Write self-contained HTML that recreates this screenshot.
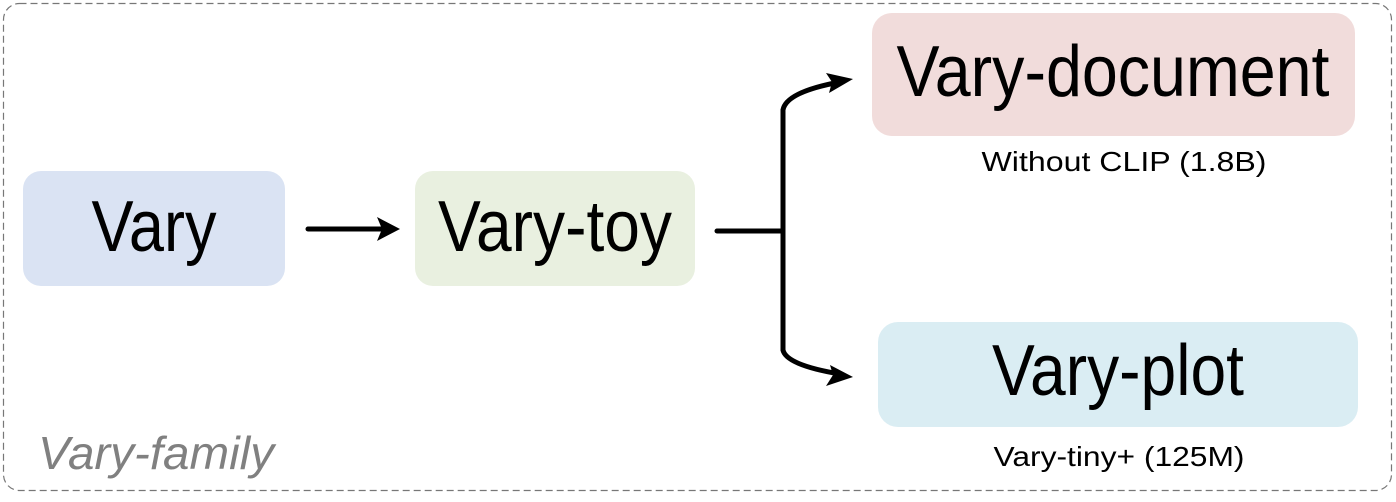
<!DOCTYPE html>
<html><head><meta charset="utf-8"><style>
html,body{margin:0;padding:0;background:#fff;width:1396px;height:502px;overflow:hidden}
svg{display:block}
</style></head><body>
<svg width="1396" height="502" viewBox="0 0 1396 502" xmlns="http://www.w3.org/2000/svg" font-family="Liberation Sans, Arial, sans-serif">
<rect x="3.5" y="3.5" width="1388" height="487" rx="16" fill="#fff" stroke="#777" stroke-width="1.2" stroke-dasharray="7,4"/>
<rect x="23" y="171" width="262" height="115" rx="18" fill="#dae3f3"/>
<rect x="415" y="171" width="280" height="115" rx="18" fill="#e9f0e0"/>
<rect x="872" y="13" width="483" height="123" rx="20" fill="#f1dcdb"/>
<rect x="878" y="322" width="480" height="105" rx="20" fill="#daedf3"/>
<text x="154" y="251" font-size="72" text-anchor="middle" textLength="125" lengthAdjust="spacingAndGlyphs">Vary</text>
<text x="555" y="251" font-size="72" text-anchor="middle" textLength="234" lengthAdjust="spacingAndGlyphs">Vary-toy</text>
<text x="1113" y="96" font-size="72" text-anchor="middle" textLength="433" lengthAdjust="spacingAndGlyphs">Vary-document</text>
<text x="1118" y="395" font-size="72" text-anchor="middle" textLength="252" lengthAdjust="spacingAndGlyphs">Vary-plot</text>
<text x="1124" y="171" font-size="28" text-anchor="middle" textLength="285" lengthAdjust="spacingAndGlyphs">Without CLIP (1.8B)</text>
<text x="1119" y="466" font-size="28" text-anchor="middle" textLength="251" lengthAdjust="spacingAndGlyphs">Vary-tiny+ (125M)</text>
<text x="38" y="469" font-size="46" font-style="italic" fill="#808080" textLength="236" lengthAdjust="spacingAndGlyphs">Vary-family</text>
<g stroke="#000" stroke-width="5" fill="none" stroke-linecap="round">
<line x1="308" y1="229" x2="382" y2="229"/>
<line x1="717" y1="231" x2="783" y2="231"/>
<path d="M783 350 L783 110 Q786 92 840 82"/>
<path d="M783 110 L783 350 Q786 365 840 374"/>
</g>
<polygon points="400,229 377,217 382,229 377,241" fill="#000"/>
<polygon points="853,79 826,73 832,82 829,93" fill="#000"/>
<polygon points="853,377 830,365 833,375 826,386" fill="#000"/>
</svg>
</body></html>
